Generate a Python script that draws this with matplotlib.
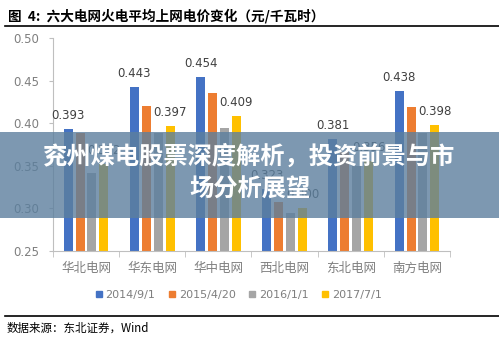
import matplotlib
matplotlib.use("Agg")
import matplotlib.pyplot as plt
from matplotlib.patches import Rectangle
from matplotlib.lines import Line2D
import numpy as np

plt.rcParams['font.family'] = ['Noto Sans CJK SC', 'DejaVu Sans']

# data
grids = ['华北电网', '华东电网', '华中电网', '西北电网', '东北电网', '南方电网']
dates = ['2014/9/1', '2015/4/20', '2016/1/1', '2017/7/1']
p2014 = [0.393, 0.443, 0.454, 0.323, 0.381, 0.438]
p2015 = [0.389, 0.420, 0.435, 0.308, 0.366, 0.419]
p2016 = [0.342, 0.388, 0.395, 0.294, 0.350, 0.388]
p2017 = [0.352, 0.397, 0.409, 0.300, 0.356, 0.398]
colors = ['#4472C4', '#ED7D31', '#A5A5A5', '#FFC000']

fig = plt.figure(figsize=(4.99, 3.5), dpi=100)
ax = fig.add_axes([0.106, 0.283, 0.796, 0.608])

x = np.arange(len(grids))
series = [p2014, p2015, p2016, p2017]
offsets = [-0.27, -0.09, 0.09, 0.27]
for vals, off, c in zip(series, offsets, colors):
    ax.bar(x + off, vals, width=0.135, color=c, zorder=2)

# labels on first and last series
for vals, off in [(p2014, offsets[0]), (p2017, offsets[3])]:
    for xi, v in zip(x, vals):
        ax.annotate(f'{v:.3f}', (xi + off, v), xytext=(0, 5), textcoords='offset points',
                    ha='center', va='bottom', fontsize=8.5, color='#404040',
                    family=['DejaVu Sans'])

ax.set_ylim(0.25, 0.50)
ax.set_xlim(-0.5, 5.5)
ax.set_yticks([0.25, 0.30, 0.35, 0.40, 0.45, 0.50])
ax.set_yticklabels(['0.25', '0.30', '0.35', '0.40', '0.45', '0.50'], family=['DejaVu Sans'])
ax.set_xticks(x)
ax.set_xticklabels(grids)
ax.set_xticks(np.arange(-0.5, 6, 1), minor=True)
ax.tick_params(axis='x', which='major', length=0, pad=8, labelsize=9, labelcolor='#7F7F7F')
ax.tick_params(axis='x', which='minor', length=4, color='#BFBFBF', direction='out')
ax.tick_params(axis='y', length=3, color='#BFBFBF', labelsize=8.5, labelcolor='#7F7F7F', pad=7)
for s in ['top', 'right']:
    ax.spines[s].set_visible(False)
for s in ['left', 'bottom']:
    ax.spines[s].set_color('#BFBFBF')

handles = [Line2D([], [], marker='s', linestyle='', markersize=5, color=c) for c in colors]
fig.legend(handles, dates, loc='center', bbox_to_anchor=(0.475, 0.157), ncol=4,
           frameon=False, handletextpad=0.0, columnspacing=0.9, handlelength=1.2,
           labelcolor='#7F7F7F', prop={'family': ['DejaVu Sans'], 'size': 8})

# header and footer
fig.text(0.016, 0.955, '图  4:  六大电网火电平均上网电价变化（元/千瓦时）', fontsize=9.8,
         fontweight='bold', va='center', ha='left')
fig.add_artist(Line2D([0.01, 1.0], [0.925, 0.925], color='black', lw=1.2,
                      transform=fig.transFigure))
fig.add_artist(Line2D([0.01, 1.0], [0.097, 0.097], color='black', lw=1.2,
                      transform=fig.transFigure))
fig.text(0.014, 0.063, '数据来源：东北证券，Wind', fontsize=8.3, va='center', ha='left')

# overlay banner
fig.add_artist(Rectangle((0, 0.377), 1, 0.246, transform=fig.transFigure,
                         facecolor='#5C7F9E', alpha=0.8, edgecolor='none', zorder=10))
fig.text(0.5, 0.552, '兖州煤电股票深度解析，投资前景与市', fontsize=17.5, fontweight='bold',
         color='white', ha='center', va='center', zorder=11)
fig.text(0.5, 0.457, '场分析展望', fontsize=17.5, fontweight='bold',
         color='white', ha='center', va='center', zorder=11)

fig.savefig('out.png', dpi=100)
